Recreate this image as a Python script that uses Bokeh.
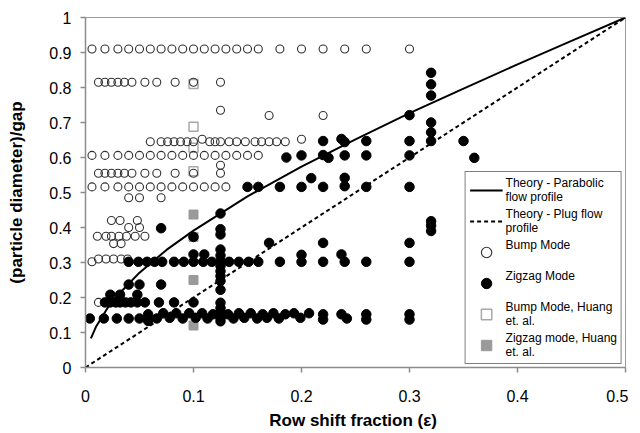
from bokeh.plotting import figure
from bokeh.models import Legend, LegendItem, FixedTicker, CustomJSTickFormatter
from bokeh.embed import file_html
from bokeh.resources import INLINE

# ---------------- data ----------------
x_ticks = [0, 0.1, 0.2, 0.3, 0.4, 0.5]
y_ticks = [0, 0.1, 0.2, 0.3, 0.4, 0.5, 0.6, 0.7, 0.8, 0.9, 1.0]

# theory curve, parabolic flow profile
parab_eps = [0.005, 0.01, 0.02, 0.03, 0.05, 0.075, 0.1, 0.15, 0.2, 0.25, 0.3, 0.35, 0.4, 0.45, 0.5]
parab_d = [0.083, 0.118, 0.168, 0.207, 0.271, 0.336, 0.391, 0.489, 0.574, 0.652, 0.727, 0.797, 0.866, 0.933, 1.0]

# theory, plug flow profile
plug_eps = [0.0, 0.5]
plug_d = [0.0, 1.0]

# Bump mode (open circles)
bump_x = [
    0.006, 0.018, 0.03, 0.04, 0.05, 0.06, 0.07, 0.08, 0.09, 0.10, 0.11, 0.12, 0.13, 0.14, 0.15, 0.16, 0.18, 0.20, 0.22, 0.24, 0.26, 0.30,
    0.012, 0.018, 0.024, 0.03, 0.036, 0.043, 0.055, 0.066, 0.083, 0.10, 0.125,
    0.125, 0.17, 0.22,
    0.06, 0.07, 0.076, 0.082, 0.088, 0.094, 0.10, 0.108, 0.115, 0.12, 0.125, 0.133, 0.14, 0.148, 0.157, 0.163, 0.17, 0.177, 0.185, 0.20,
    0.006, 0.018, 0.03, 0.04, 0.05, 0.06, 0.07, 0.08, 0.09, 0.10, 0.11, 0.12, 0.13, 0.14, 0.15, 0.16,
    0.125,
    0.012, 0.018, 0.024, 0.03, 0.036, 0.043, 0.055, 0.066, 0.083, 0.10, 0.125,
    0.006, 0.018, 0.03, 0.04, 0.05, 0.06, 0.07, 0.08, 0.09, 0.10, 0.11, 0.12, 0.13,
    0.04, 0.05, 0.07,
    0.024, 0.032, 0.048,
    0.04, 0.05,
    0.011, 0.019, 0.024, 0.031, 0.038, 0.046, 0.055,
    0.026, 0.033,
    0.006, 0.012, 0.019, 0.026, 0.033, 0.039,
    0.012,
]
bump_y = [
    0.91, 0.91, 0.91, 0.91, 0.91, 0.91, 0.91, 0.91, 0.91, 0.91, 0.91, 0.91, 0.91, 0.91, 0.91, 0.91, 0.91, 0.91, 0.91, 0.91, 0.91, 0.91,
    0.815, 0.815, 0.815, 0.815, 0.815, 0.815, 0.815, 0.815, 0.815, 0.815, 0.815,
    0.735, 0.72, 0.72,
    0.645, 0.645, 0.645, 0.645, 0.645, 0.645, 0.645, 0.652, 0.645, 0.645, 0.645, 0.645, 0.645, 0.645, 0.645, 0.645, 0.645, 0.645, 0.645, 0.652,
    0.606, 0.606, 0.606, 0.606, 0.606, 0.606, 0.606, 0.606, 0.606, 0.606, 0.606, 0.606, 0.606, 0.606, 0.606, 0.606,
    0.578,
    0.555, 0.555, 0.555, 0.555, 0.555, 0.555, 0.555, 0.555, 0.555, 0.555, 0.555,
    0.516, 0.516, 0.516, 0.516, 0.516, 0.516, 0.516, 0.516, 0.516, 0.516, 0.516, 0.516, 0.516,
    0.485, 0.485, 0.485,
    0.42, 0.42, 0.42,
    0.40, 0.40,
    0.375, 0.375, 0.375, 0.375, 0.375, 0.375, 0.375,
    0.354, 0.354,
    0.302, 0.31, 0.31, 0.31, 0.31, 0.31,
    0.186,
]

# Zigzag mode (filled circles)
zig_x = [
    0.32, 0.32, 0.32, 0.30, 0.32, 0.32, 0.32,
    0.22, 0.237, 0.24, 0.26, 0.30, 0.35,
    0.186, 0.20, 0.22, 0.225, 0.24, 0.26, 0.30, 0.36,
    0.209, 0.24,
    0.15, 0.16, 0.18, 0.20, 0.22, 0.24, 0.26, 0.30,
    0.32, 0.32, 0.32,
    0.125, 0.07, 0.10,
    0.125, 0.125, 0.125, 0.125, 0.125, 0.125, 0.125, 0.125, 0.125, 0.125, 0.125, 0.125, 0.125, 0.125, 0.125,
    0.17, 0.22, 0.30,
    0.10, 0.11, 0.20, 0.237,
    0.04, 0.049, 0.057, 0.064, 0.071, 0.082, 0.091, 0.10, 0.109, 0.117, 0.133, 0.142, 0.151, 0.16, 0.18, 0.20, 0.22, 0.24, 0.26, 0.30,
    0.04, 0.05, 0.07,
    0.023, 0.032, 0.048,
    0.018, 0.023, 0.028, 0.032, 0.037, 0.042, 0.048, 0.055, 0.068, 0.082, 0.10,
    0.004, 0.017, 0.029, 0.04, 0.05, 0.058, 0.058, 0.066, 0.072, 0.078, 0.084, 0.09, 0.096, 0.102, 0.108, 0.113, 0.118,
    0.132, 0.137, 0.142, 0.147, 0.153, 0.159, 0.164, 0.168, 0.174, 0.179, 0.185, 0.193, 0.199, 0.207, 0.22, 0.22, 0.237, 0.242, 0.26, 0.26, 0.30, 0.30,
]
zig_y = [
    0.842, 0.809, 0.777, 0.721, 0.70, 0.672, 0.647,
    0.647, 0.653, 0.644, 0.647, 0.647, 0.647,
    0.60, 0.606, 0.607, 0.599, 0.606, 0.606, 0.606, 0.599,
    0.541, 0.542,
    0.516, 0.516, 0.516, 0.516, 0.516, 0.518, 0.516, 0.516,
    0.418, 0.405, 0.39,
    0.44, 0.398, 0.373,
    0.395, 0.38, 0.337, 0.32, 0.304, 0.29, 0.275, 0.261, 0.247, 0.222, 0.185, 0.17, 0.156, 0.142, 0.132,
    0.356, 0.356, 0.356,
    0.323, 0.323, 0.322, 0.323,
    0.302, 0.302, 0.302, 0.302, 0.302, 0.302, 0.302, 0.302, 0.302, 0.302, 0.302, 0.302, 0.302, 0.302, 0.302, 0.302, 0.302, 0.302, 0.302, 0.302,
    0.237, 0.237, 0.237,
    0.208, 0.208, 0.208,
    0.186, 0.186, 0.186, 0.186, 0.186, 0.186, 0.186, 0.186, 0.186, 0.186, 0.186,
    0.14, 0.14, 0.14, 0.14, 0.14, 0.133, 0.152, 0.14, 0.155, 0.142, 0.155, 0.14, 0.155, 0.142, 0.155, 0.14, 0.152,
    0.152, 0.14, 0.155, 0.142, 0.155, 0.14, 0.152, 0.142, 0.155, 0.14, 0.152, 0.155, 0.142, 0.155, 0.137, 0.152, 0.152, 0.14, 0.137, 0.152, 0.137, 0.152,
]

# Huang et al.
huang_bump_x = [0.10, 0.10, 0.10, 0.10]
huang_bump_y = [0.81, 0.688, 0.628, 0.561]
huang_zig_x = [0.10, 0.10, 0.10, 0.10]
huang_zig_y = [0.437, 0.373, 0.25, 0.12]

# ---------------- figure ----------------
FONT = "Liberation Sans"

p = figure(frame_width=540, frame_height=350, output_backend="svg", toolbar_location=None,
           x_range=(0, 0.5), y_range=(0, 1),
           min_border_left=85, min_border_right=3, min_border_top=17, min_border_bottom=58)
p.background_fill_color = "white"
p.border_fill_color = "white"
p.outline_line_color = "#9a9a9a"
p.outline_line_width = 1
p.xgrid.visible = False
p.ygrid.visible = False

r_hb = p.scatter(huang_bump_x, huang_bump_y, marker="square", size=9,
                 fill_alpha=0, line_color="#a8a8a8", line_width=1.5)
r_hz = p.scatter(huang_zig_x, huang_zig_y, marker="square", size=9,
                 fill_color="#9a9a9a", line_color="#9a9a9a")
r_bump = p.scatter(bump_x, bump_y, marker="circle", size=8,
                   fill_alpha=0, line_color="#303030", line_width=1.1)
r_zig = p.scatter(zig_x, zig_y, marker="circle", size=9.5,
                  fill_color="black", line_color="black")
r_par = p.line(parab_eps, parab_d, line_color="black", line_width=2)
r_plug = p.line(plug_eps, plug_d, line_color="black", line_width=2, line_dash="4 3")

for ax in (p.xaxis[0], p.yaxis[0]):
    ax.axis_line_color = "#8c8c8c"
    ax.axis_line_width = 1.5
    ax.major_tick_line_color = "#8c8c8c"
    ax.major_tick_line_width = 1.5
    ax.major_tick_out = 5
    ax.major_tick_in = 0
    ax.minor_tick_line_color = None
    ax.major_label_text_font = FONT
    ax.major_label_text_font_size = "16px"
    ax.major_label_text_color = "black"
    ax.axis_label_text_font = FONT
    ax.axis_label_text_font_size = "17px"
    ax.axis_label_text_font_style = "bold"
    ax.axis_label_text_color = "black"

fmt = CustomJSTickFormatter(code="return String(Math.round(tick * 10) / 10);")
p.xaxis.ticker = FixedTicker(ticks=x_ticks)
p.yaxis.ticker = FixedTicker(ticks=y_ticks)
p.xaxis.formatter = fmt
p.yaxis.formatter = fmt
p.xaxis.major_label_standoff = 17
p.yaxis.major_label_standoff = 9
p.xaxis.axis_label = "Row shift fraction  (\u03b5)"
p.yaxis.axis_label = "(particle diameter)/gap"
p.xaxis.axis_label_standoff = 6
p.yaxis.axis_label_standoff = 20

legend = Legend(items=[
    LegendItem(label="Theory - Parabolic\nflow profile", renderers=[r_par]),
    LegendItem(label="Theory - Plug flow\nprofile", renderers=[r_plug]),
    LegendItem(label="Bump Mode\n ", renderers=[r_bump]),
    LegendItem(label="Zigzag Mode\n ", renderers=[r_zig]),
    LegendItem(label="Bump Mode, Huang\net. al.", renderers=[r_hb]),
    LegendItem(label="Zigzag mode, Huang\net. al.", renderers=[r_hz]),
])
legend.location = "bottom_right"
legend.margin = 3
legend.padding = 4
legend.spacing = 3
legend.glyph_width = 33
legend.glyph_height = 26
legend.label_height = 26
legend.label_standoff = 3
legend.label_text_font = FONT
legend.label_text_font_size = "12px"
legend.label_text_line_height = 1.2
legend.label_text_color = "black"
legend.border_line_color = "black"
legend.border_line_width = 1
legend.background_fill_color = "white"
legend.background_fill_alpha = 1
p.add_layout(legend, "center")

open("out.html", "w").write(file_html(p, INLINE))
